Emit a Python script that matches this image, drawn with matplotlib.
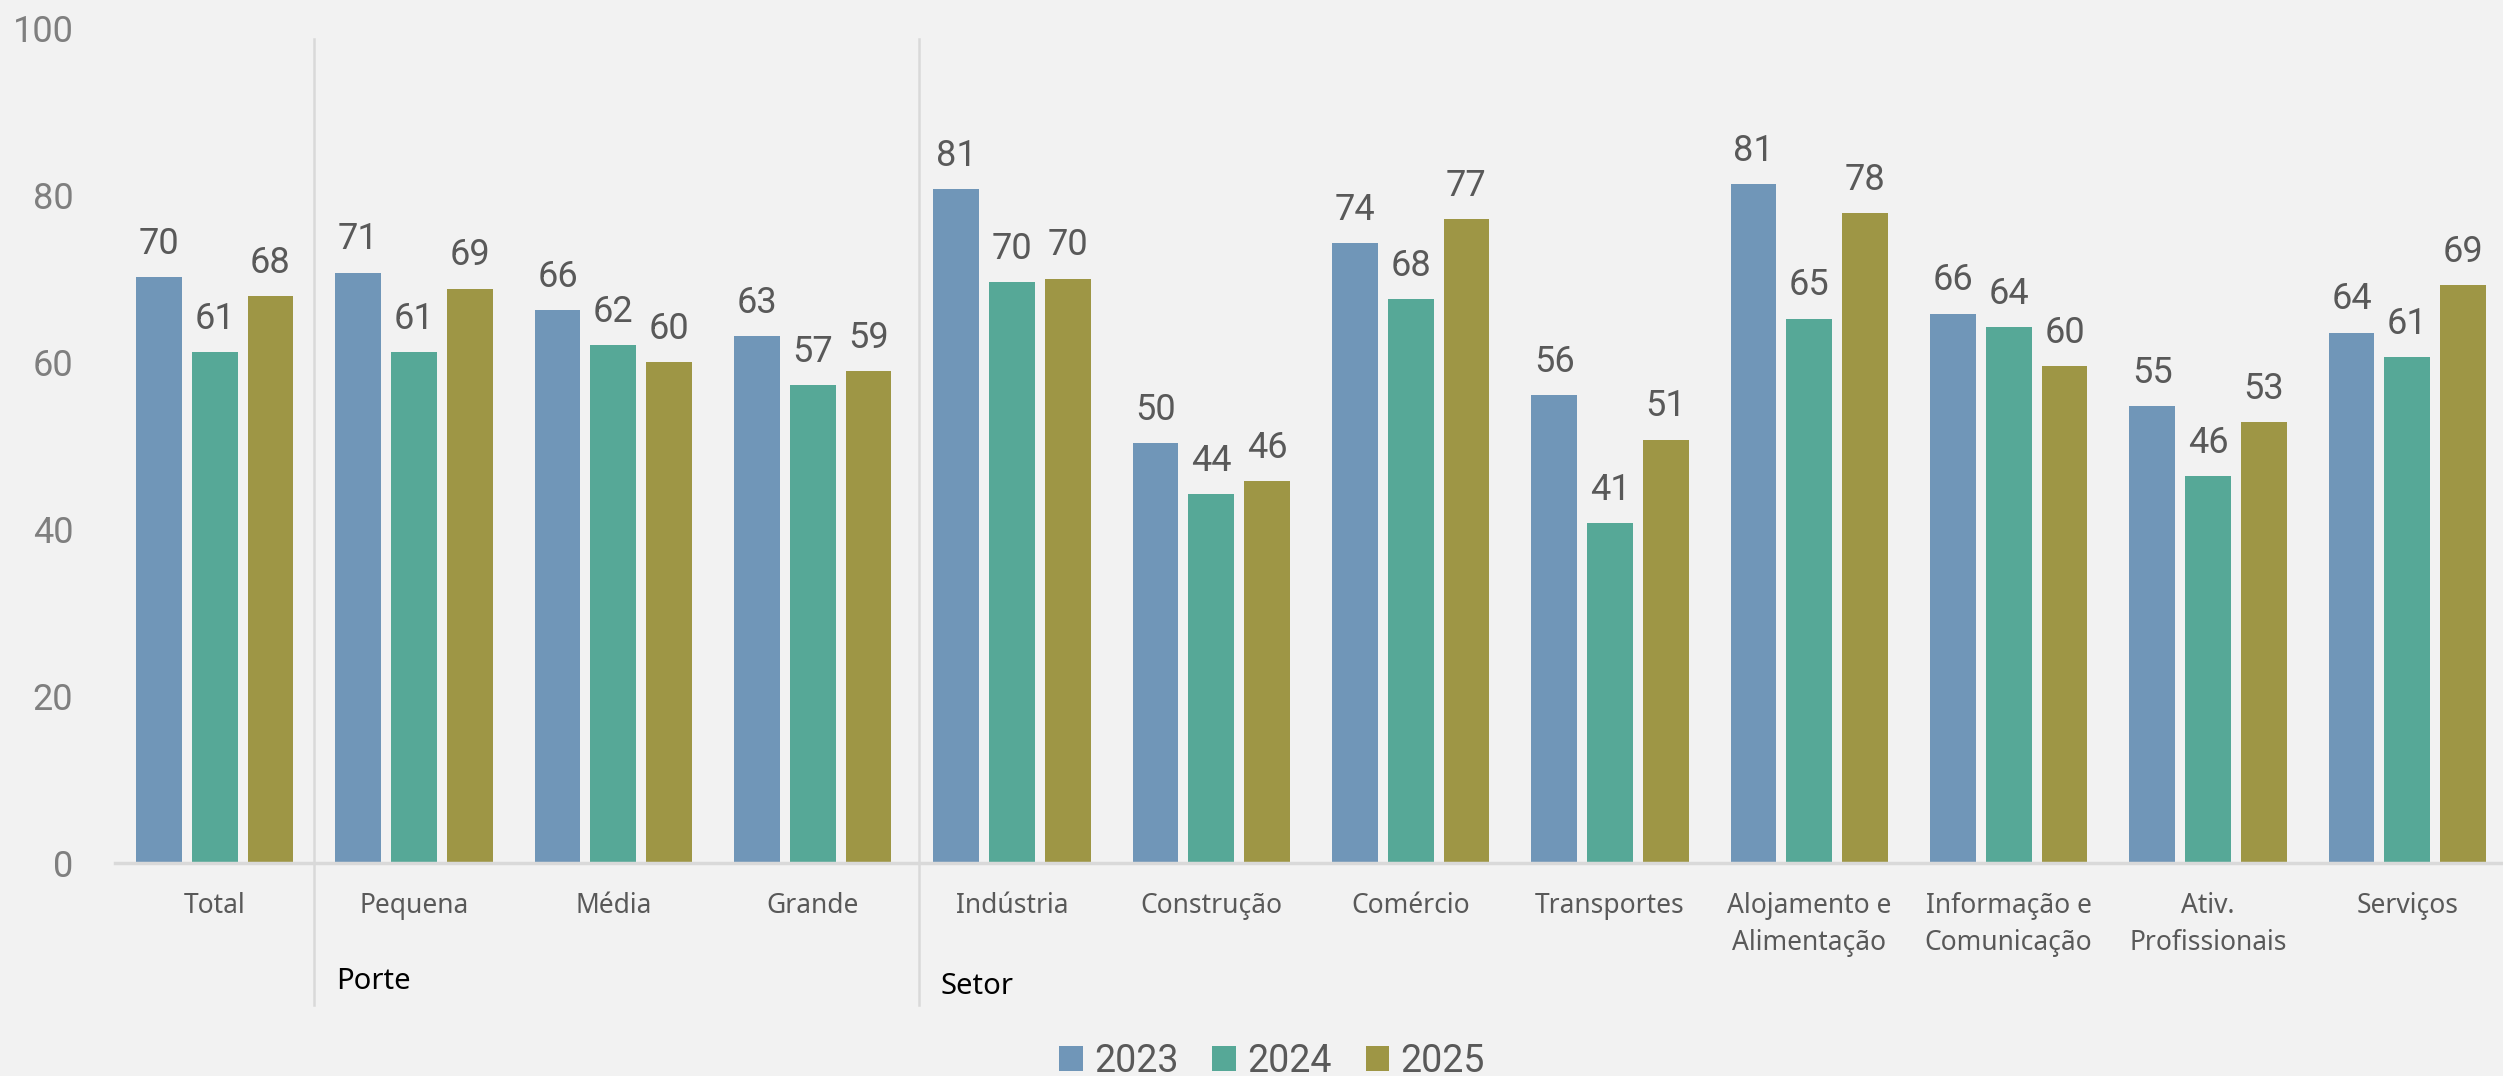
import numpy as np
import matplotlib.pyplot as plt
from matplotlib.transforms import blended_transform_factory

# data
categories = ["Total", "Pequena", "Média", "Grande", "Indústria", "Construção",
              "Comércio", "Transportes", "Alojamento e\nAlimentação",
              "Informação e\nComunicação", "Ativ.\nProfissionais", "Serviços"]
years = ["2023", "2024", "2025"]
v2023 = [70.2, 70.7, 66.2, 63.1, 80.7, 50.3, 74.2, 56.0, 81.3, 65.8, 54.7, 63.5]
v2024 = [61.2, 61.2, 62.0, 57.2, 69.6, 44.2, 67.5, 40.7, 65.2, 64.2, 46.3, 60.6]
v2025 = [67.9, 68.8, 60.0, 58.9, 70.0, 45.7, 77.1, 50.7, 77.8, 59.5, 52.8, 69.2]
yticks = [0, 20, 40, 60, 80, 100]
groups = ["Porte", "Setor"]

colors = ["#7096B8", "#56A897", "#9E9645"]
bg = "#F2F2F2"
grid = "#D9D9D9"

fig = plt.figure(figsize=(25.03, 10.76), dpi=100, facecolor=bg)
ax = fig.add_axes([115/2503, 1-863/1076, 2392/2503, 835/1076], facecolor=bg)

x = np.arange(len(categories))
w = 0.23
step = 0.28
for i, (vals, yr) in enumerate(zip([v2023, v2024, v2025], years)):
    bars = ax.bar(x + (i-1)*step, vals, width=w, color=colors[i], label=yr, zorder=2)
    for b, v in zip(bars, vals):
        ax.annotate("{:.0f}".format(v), (b.get_x()+b.get_width()/2, v),
                    xytext=(0, 11), textcoords="offset points",
                    ha="center", va="bottom", fontsize=26, color="#595959",
                    family="Roboto")

ax.set_xlim(-0.5, len(categories)-0.5)
ax.set_ylim(0, 100)
ax.set_yticks(yticks)
ax.set_yticklabels([str(t) for t in yticks], fontsize=26, color="#7F7F7F", family="Roboto")
ax.set_xticks(x)
ax.set_xticklabels(categories, fontsize=19, color="#595959", family="Noto Sans",
                   linespacing=1.4, va="top")
ax.tick_params(axis="both", length=0)
ax.tick_params(axis="x", pad=21)
ax.tick_params(axis="y", pad=30)

for s in ["top", "right", "left"]:
    ax.spines[s].set_visible(False)
ax.spines["bottom"].set_color(grid)
ax.spines["bottom"].set_linewidth(2.5)

# group separators, run from top down past the labels
tr = blended_transform_factory(ax.transData, ax.transAxes)
for sx in [0.5, 3.535]:
    ax.plot([sx, sx], [0.987, -0.17], transform=tr, color=grid, lw=1.8,
            clip_on=False, zorder=1)

ax.text(0.61, -0.142, groups[0], transform=tr, fontsize=21, color="black",
        family="Noto Sans", ha="left", va="center")
ax.text(3.64, -0.148, groups[1], transform=tr, fontsize=21, color="black",
        family="Noto Sans", ha="left", va="center")

fig.legend(loc="center", bbox_to_anchor=(1272/2503, 1-1061/1076), ncol=3,
           frameon=False, prop={"family": "Roboto", "size": 27},
           labelcolor="#595959", handlelength=0.63, handleheight=0.63,
           handletextpad=0.3, columnspacing=0.9, borderpad=0)

fig.savefig("out.png", dpi=100, facecolor=bg)
